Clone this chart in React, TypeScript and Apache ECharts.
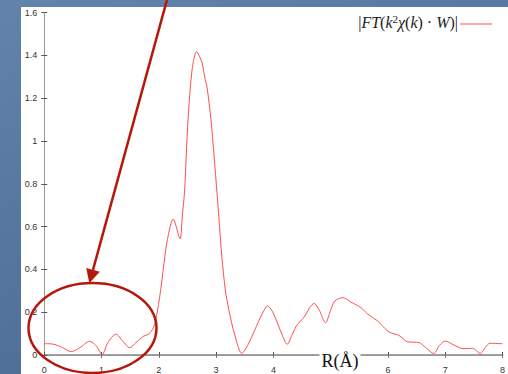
import React, { useEffect, useRef } from "react";
import * as echarts from "echarts";

const rValues = [0, 0.15, 0.3, 0.47, 0.62, 0.79, 0.91, 1.01, 1.11, 1.25, 1.37, 1.49, 1.6, 1.72, 1.83, 1.9, 1.95, 2.03, 2.09, 2.15, 2.25, 2.37, 2.41, 2.45, 2.48, 2.51, 2.58, 2.66, 2.72, 2.76, 2.81, 2.84, 2.91, 2.96, 3.02, 3.1, 3.16, 3.22, 3.33, 3.45, 3.56, 3.68, 3.8, 3.9, 3.98, 4.08, 4.16, 4.24, 4.32, 4.4, 4.55, 4.63, 4.71, 4.8, 4.91, 5.0, 5.07, 5.21, 5.35, 5.53, 5.64, 5.82, 5.88, 6.02, 6.19, 6.34, 6.54, 6.66, 6.8, 6.9, 7.0, 7.15, 7.31, 7.48, 7.61, 7.7, 7.78, 7.98, 8.0];
const ftValues = [0.053, 0.051, 0.037, 0.016, 0.034, 0.064, 0.042, 0.002, 0.058, 0.097, 0.065, 0.034, 0.058, 0.086, 0.099, 0.125, 0.17, 0.3, 0.43, 0.54, 0.636, 0.543, 0.65, 0.77, 0.944, 1.1, 1.333, 1.418, 1.39, 1.36, 1.286, 1.255, 1.1, 0.944, 0.742, 0.46, 0.306, 0.213, 0.089, 0.008, 0.05, 0.12, 0.19, 0.229, 0.205, 0.143, 0.09, 0.05, 0.09, 0.135, 0.182, 0.22, 0.241, 0.21, 0.151, 0.21, 0.252, 0.268, 0.248, 0.221, 0.193, 0.159, 0.143, 0.107, 0.092, 0.062, 0.058, 0.035, 0.007, 0.045, 0.065, 0.047, 0.03, 0.031, 0.007, 0.035, 0.055, 0.053, 0.053];

const xMin = 0, xMax = 8, xStep = 1;
const yMin = 0, yMax = 1.6, yStep = 0.2;
const xTitle = "R(Å)";

export default function App() {
  const ref = useRef<HTMLDivElement>(null);
  useEffect(() => {
    if (!ref.current) return;
    const chart = echarts.init(ref.current, undefined, { renderer: "svg" });
    const red = "#b5170b";
    const sx = 167.5, sy = -2, tx = 89.3, ty = 283.3;
    const len = Math.hypot(tx - sx, ty - sy);
    const ux = (tx - sx) / len, uy = (ty - sy) / len;
    const hl = 14, hw = 7;
    const bx = tx - hl * ux, by = ty - hl * uy;
    const px = -uy, py = ux;
    const labelFont = { color: "#333", fontSize: 9, fontFamily: "Liberation Sans, Arial, sans-serif" };
    const hidden = { show: false };
    const serif = "Liberation Serif, DejaVu Serif, serif";
    chart.setOption({
      animation: false,
      backgroundColor: "transparent",
      grid: { left: 44.3, top: 12.7, right: 2.2, bottom: 18.3 },
      xAxis: [
        {
          type: "value", min: xMin, max: xMax, interval: xStep, position: "bottom",
          axisLine: { lineStyle: { color: "#a0a0a0", width: 2 } },
          axisTick: { inside: true, length: 3, lineStyle: { color: "#555" } },
          axisLabel: { ...labelFont, margin: 10 },
          splitLine: hidden,
        },
        {
          type: "value", min: xMin, max: xMax, interval: xStep, position: "top",
          axisLine: { lineStyle: { color: "#999", width: 1 } },
          axisTick: { inside: true, length: 3, lineStyle: { color: "#777" } },
          axisLabel: hidden, splitLine: hidden,
        },
      ],
      yAxis: [
        {
          type: "value", min: yMin, max: yMax, interval: yStep, position: "left",
          axisLine: { show: true, lineStyle: { color: "#555", width: 1 } },
          axisTick: { show: true, inside: true, length: 3, lineStyle: { color: "#555" } },
          axisLabel: { ...labelFont, margin: 7 },
          splitLine: hidden,
        },
        {
          type: "value", min: yMin, max: yMax, interval: yStep, position: "right",
          axisLine: { show: true, lineStyle: { color: "#999", width: 1 } },
          axisTick: { show: true, inside: true, length: 3, lineStyle: { color: "#555" } },
          axisLabel: hidden, splitLine: hidden,
        },
      ],
      series: [
        {
          type: "line",
          data: rValues.map((r, i) => [r, ftValues[i]]),
          smooth: 0.3,
          showSymbol: false,
          lineStyle: { color: "#ff4e4e", width: 1 },
          z: 3,
        },
      ],
      graphic: [
        {
          type: "rect", z: -10, silent: true,
          shape: { x: 21, y: 7, width: 520, height: 400 },
          style: { fill: "#ffffff" },
        },
        {
          type: "text", z: 100, x: 458, y: 22,
          style: {
            text: "{a||}{i|FT}{a|(}{i|k}{s|2}{i|χ}{a|(}{i|k}{a|) · }{i|W}{a|)|}",
            align: "right", verticalAlign: "middle",
            rich: {
              a: { fontFamily: serif, fontSize: 16, fill: "#222" },
              i: { fontFamily: serif, fontStyle: "italic", fontSize: 16, fill: "#222" },
              s: { fontFamily: serif, fontSize: 11, fill: "#222", verticalAlign: "top", padding: [0, 0, 6, 0] },
            },
          },
        },
        {
          type: "line", z: 100,
          shape: { x1: 460, y1: 24, x2: 492, y2: 24 },
          style: { stroke: "#ff4e4e", lineWidth: 1 },
        },
        {
          type: "text", z: 100, x: 340, y: 352,
          style: {
            text: xTitle, align: "center", verticalAlign: "top",
            fontFamily: serif, fontSize: 18, fill: "#111",
            backgroundColor: "#fff", padding: [0, 2, 6, 2],
          },
        },
        {
          type: "ellipse", z: 90,
          shape: { cx: 92.5, cy: 328, rx: 64, ry: 45 },
          style: { fill: "none", stroke: red, lineWidth: 2.5 },
        },
        {
          type: "line", z: 90,
          shape: { x1: sx, y1: sy, x2: bx, y2: by },
          style: { stroke: red, lineWidth: 2.5 },
        },
        {
          type: "polygon", z: 90,
          shape: { points: [[tx, ty], [bx + hw * px, by + hw * py], [bx - hw * px, by - hw * py]] },
          style: { fill: red },
        },
      ],
    });
    return () => chart.dispose();
  }, []);
  return (
    <div
      ref={ref}
      style={{
        position: "absolute", left: 0, top: 0, width: 508, height: 374,
        background: "linear-gradient(160deg, #6284ab 0%, #56779f 40%, #4a6890 100%)",
      }}
    />
  );
}
